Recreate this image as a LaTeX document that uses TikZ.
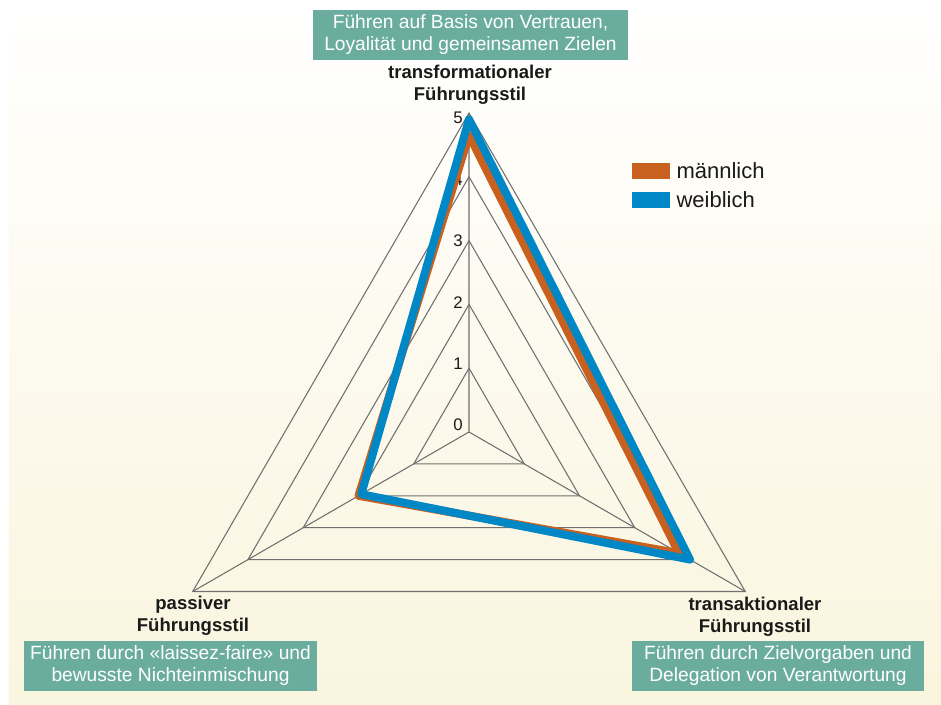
\documentclass[tikz,border=0pt]{standalone}
\usepackage{fontspec}
\setmainfont{Liberation Sans}
\usetikzlibrary{positioning}
\definecolor{boxgreen}{RGB}{106,173,158}
\definecolor{gridgray}{RGB}{112,112,112}
\definecolor{maleorange}{RGB}{200,96,31}
\definecolor{femaleblue}{RGB}{0,136,198}
\definecolor{bgcream}{RGB}{250,245,222}
\definecolor{textblack}{RGB}{26,26,26}

\begin{document}
\begin{tikzpicture}[x=0.75pt,y=0.75pt]
\tikzset{
infobox/.style = {fill=boxgreen,text=white,font=\fontsize{14.4}{16.5}\selectfont,align=center,minimum height=37.5pt,inner sep=0pt},
stilname/.style = {text=textblack,font=\fontsize{13.9}{16.5}\selectfont\bfseries,align=center,inner sep=0pt},
gridline/.style = {draw=gridgray,line width=0.8pt},
datline/.style = {line width=6pt,line join=round},
zahl/.style = {text=textblack,font=\fontsize{12.6}{14}\selectfont,anchor=east,inner sep=0pt},
legbox/.style = {minimum width=28.5pt,minimum height=12pt,inner sep=0pt},
legtext/.style = {text=textblack,font=\fontsize{16.5}{19}\selectfont,inner sep=0pt},
}
\pgfmathsetmacro\einheit{63.8}
    %
% Background.
\fill[white] (-469,-273) rectangle (472,432);
\shade[top color=white,bottom color=bgcream] (-460,-273) rectangle (472,432);

% Axes and grid.
\coordinate (mitte) at (0,0);
\coordinate (tfs) at (90:5*\einheit);
\coordinate (tas) at (-30:5*\einheit);
\coordinate (pfs) at (210:5*\einheit);
\foreach \k in {1,...,5}
  \draw[gridline] (90:\k*\einheit) -- (-30:\k*\einheit) -- (210:\k*\einheit) -- cycle;
\draw[gridline] (mitte) -- (tfs) (mitte) -- (tas) (mitte) -- (pfs);
\foreach \k in {0,...,5}
  \node[zahl] (z\k) at (-6,7+61.4*\k) {\k};

% Values.
\draw[datline,draw=maleorange] (90:4.65*\einheit) -- (-30:3.8*\einheit) -- (210:2.0*\einheit) -- cycle;
\draw[datline,draw=femaleblue] (90:4.9*\einheit) -- (-30:4.0*\einheit) -- (210:1.95*\einheit) -- cycle;

% Legend.
\node[legbox,fill=maleorange] (lm) at (182,261) {};
\node[legbox,fill=femaleblue] (lw) at (182,232) {};
\node[legtext,right=4.5pt of lm] (lmtext) {männlich};
\node[legtext,right=4.5pt of lw] (lwtext) {weiblich};

% Labels.
\node[stilname] (transform) at (1,347) {transformationaler\\Führungsstil};
\node[stilname] (passiv) at (-276,-184) {passiver\\Führungsstil};
\node[stilname] (transakt) at (286,-185) {transaktionaler\\Führungsstil};
\node[infobox,minimum width=236pt] (transformtext) at (1.5,397) {Führen auf Basis von Vertrauen,\\Loyalität und gemeinsamen Zielen};
\node[infobox,minimum width=219.75pt] (passivtext) at (-298.5,-234) {Führen durch «laissez-faire» und\\bewusste Nichteinmischung};
\node[infobox,minimum width=219pt] (transakttext) at (309,-234) {Führen durch Zielvorgaben und\\Delegation von Verantwortung};
    %
\end{tikzpicture}
\end{document}
